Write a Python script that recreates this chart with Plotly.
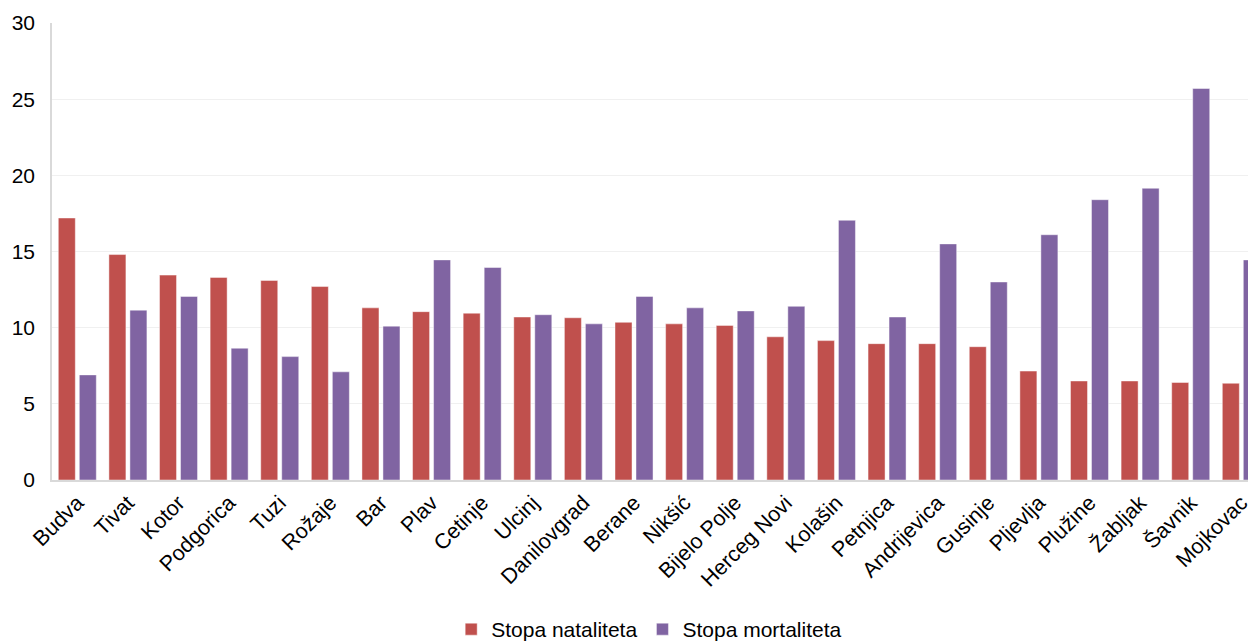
import plotly.graph_objects as go

categories = ["Budva", "Tivat", "Kotor", "Podgorica", "Tuzi", "Rožaje", "Bar", "Plav",
              "Cetinje", "Ulcinj", "Danilovgrad", "Berane", "Nikšić", "Bijelo Polje",
              "Herceg Novi", "Kolašin", "Petnjica", "Andrijevica", "Gusinje", "Pljevlja",
              "Plužine", "Žabljak", "Šavnik", "Mojkovac"]
natalitet = [17.2, 14.8, 13.45, 13.3, 13.1, 12.7, 11.3, 11.05,
             10.95, 10.7, 10.65, 10.35, 10.25, 10.15,
             9.4, 9.15, 8.95, 8.95, 8.75, 7.15,
             6.5, 6.5, 6.4, 6.35]
mortalitet = [6.9, 11.15, 12.05, 8.65, 8.1, 7.1, 10.1, 14.45,
              13.95, 10.85, 10.25, 12.05, 11.3, 11.1,
              11.4, 17.05, 10.7, 15.5, 13.0, 16.1,
              18.4, 19.15, 25.7, 14.45]
series_names = ["Stopa nataliteta", "Stopa mortaliteta"]
y_ticks = [0, 5, 10, 15, 20, 25, 30]

fig = go.Figure()
fig.add_trace(go.Bar(x=categories, y=natalitet, name=series_names[0],
                     marker=dict(color="#C0504D", line=dict(color="rgba(255,255,255,0.45)", width=1))))
fig.add_trace(go.Bar(x=categories, y=mortalitet, name=series_names[1],
                     marker=dict(color="#8064A2", line=dict(color="rgba(255,255,255,0.45)", width=1))))

fig.update_layout(
    width=1248, height=642,
    margin=dict(l=44, r=0, t=15, b=170),
    barmode="group", bargap=0.17, bargroupgap=0.19,
    plot_bgcolor="white", paper_bgcolor="white",
    font=dict(family="Liberation Sans, Arial, sans-serif", size=21, color="#000000"),
    showlegend=True,
    legend=dict(orientation="h", x=0.496, xanchor="center", y=-0.328, yanchor="middle",
                font=dict(size=21), itemwidth=30, traceorder="normal"),
    xaxis=dict(type="category", range=[-0.5, 23.29], tickangle=-45, automargin=False,
               showline=True, linecolor="#D9D9D9", linewidth=1.5,
               showgrid=False, ticks="", tickfont=dict(size=21.5)),
    yaxis=dict(range=[0, 30], tickvals=y_ticks, showgrid=True, gridcolor="#F0F0F0",
               gridwidth=1, showline=True, linecolor="#D9D9D9", linewidth=1.5, automargin=False,
               zeroline=False, ticks="", ticklabelstandoff=11, tickfont=dict(size=21)),
)

fig.write_html("out.html")
